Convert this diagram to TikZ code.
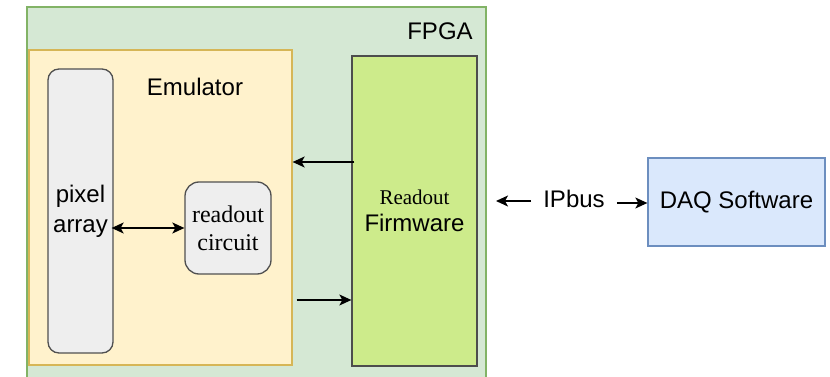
\documentclass[tikz,border=0pt]{standalone}
\usepackage{fontspec}
\setmainfont{Liberation Sans}
\newfontfamily\serifface{Liberation Serif}
\usetikzlibrary{arrows.meta}

\definecolor{fpgafill}{HTML}{D5E8D4}
\definecolor{fpgaline}{HTML}{82B366}
\definecolor{emufill}{HTML}{FFF2CC}
\definecolor{emuline}{HTML}{D6B656}
\definecolor{grayfill}{HTML}{EEEEEE}
\definecolor{grayline}{HTML}{505050}
\definecolor{fwfill}{HTML}{CDEB8B}
\definecolor{fwline}{HTML}{4D4D4D}
\definecolor{daqfill}{HTML}{DAE8FC}
\definecolor{daqline}{HTML}{6C8EBF}

\begin{document}
\begin{tikzpicture}[x=1pt,y=-1pt,
  blk/.style={draw, line width=1.3pt, inner sep=0pt, align=center,
    font=\fontsize{24}{30}\selectfont},
  lbl/.style={inner sep=0pt, font=\fontsize{24}{28}\selectfont},
  arr/.style={line width=1.3pt, -{Stealth[length=12pt,width=11pt,inset=3pt]}},
  biarr/.style={line width=1.3pt, {Stealth[length=12pt,width=11pt,inset=3pt]}-{Stealth[length=12pt,width=11pt,inset=3pt]}}]
\useasboundingbox (0,0) rectangle (830,377);
\clip (0,0) rectangle (830,377);

% FPGA container (runs past the lower edge)
\node[blk, fill=fpgafill, draw=fpgaline, minimum width=459pt, minimum height=383pt]
  (fpga) at (256.5,198.5) {};
\node[lbl, anchor=center] (fpgalbl) at (440,31) {FPGA};

% Emulator block
\node[blk, fill=emufill, draw=emuline, minimum width=263pt, minimum height=315pt]
  (emu) at (160.5,207.5) {};
\node[lbl] (emulbl) at (195,87) {Emulator};

\node[blk, fill=grayfill, draw=grayline, rounded corners=11pt,
  minimum width=65pt, minimum height=284pt] (pix) at (80.5,211) {pixel\\array};
\node[blk, fill=grayfill, draw=grayline, rounded corners=14pt,
  minimum width=86pt, minimum height=92pt,
  font=\serifface\fontsize{24}{28}\selectfont] (roc) at (228,228) {readout\\circuit};

% Firmware block
\node[blk, fill=fwfill, draw=fwline, minimum width=125pt, minimum height=310pt,
  font=\fontsize{24}{27}\selectfont]
  (fw) at (414.5,211) {{\serifface\fontsize{21}{27}\selectfont Readout}\\Firmware};

% Host side
\node[blk, fill=daqfill, draw=daqline, minimum width=177pt, minimum height=88pt]
  (daq) at (736.5,202) {DAQ Software};
\node[lbl] (ipbus) at (574,199) {IPbus};
\coordinate (iptip) at (496,201);

% Connectors
\draw[biarr] ([xshift=-2pt]pix.east |- 0,228) -- (roc.west);
\draw[arr] ([xshift=3pt]fw.west |- 0,162) -- (emu.east |- 0,162);
\draw[arr] ([xshift=4pt]emu.east |- 0,300) -- (fw.west |- 0,300);
\draw[arr] ([xshift=-12pt]ipbus.west |- iptip) -- (iptip);
\draw[arr] ([xshift=12pt]ipbus.east |- 0,203) -- (daq.west |- 0,203);
\end{tikzpicture}
\end{document}
